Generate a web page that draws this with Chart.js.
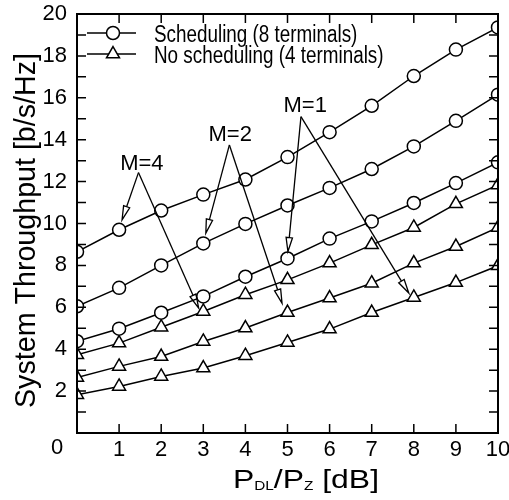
<!DOCTYPE html>
<html><head><meta charset="utf-8">
<script src="https://cdn.jsdelivr.net/npm/chart.js@4.4.0/dist/chart.umd.min.js"></script>
<style>html,body{margin:0;padding:0;background:#fff;} #wrap{width:509px;height:500px;position:relative;}</style>
</head><body><div id="wrap"><canvas id="c"></canvas></div>
<script>
// ---- data ----
const xValues = [0, 1, 2, 3, 4, 5, 6, 7, 8, 9, 10];
const schedM4   = [8.65, 9.70, 10.62, 11.38, 12.10, 13.17, 14.36, 15.62, 17.04, 18.30, 19.36];
const schedM2   = [6.05, 6.93, 8.00, 9.05, 9.98, 10.86, 11.70, 12.60, 13.68, 14.90, 16.15];
const schedM1   = [4.38, 4.98, 5.74, 6.52, 7.46, 8.33, 9.28, 10.10, 10.98, 11.93, 12.92];
const noSchedM4 = [3.73, 4.29, 5.05, 5.80, 6.60, 7.31, 8.11, 8.98, 9.81, 10.94, 11.84];
const noSchedM2 = [2.65, 3.18, 3.65, 4.37, 5.01, 5.75, 6.44, 7.15, 8.11, 8.90, 9.81];
const noSchedM1 = [1.83, 2.22, 2.70, 3.10, 3.69, 4.32, 4.96, 5.75, 6.47, 7.18, 7.98];
const xTickValues = [0, 1, 2, 3, 4, 5, 6, 7, 8, 9, 10];
const yTickLabels = [0, 2, 4, 6, 8, 10, 12, 14, 16, 18, 20];
const yMinorTicks = [1, 3, 5, 7, 9, 11, 13, 15, 17, 19];
const originLabel = '0';
const legendLabels = ['Scheduling (8 terminals)', 'No scheduling (4 terminals)'];
const annotationLabels = ['M=4', 'M=2', 'M=1'];
const annotationTextPos = [[1.54, 12.56], [3.64, 13.93], [5.42, 15.34]];
const annotationApex = [[1.46, 12.43], [3.62, 13.75], [5.32, 15.10]];
const annotationTargets = [
  [[1.07, 10.17], [2.89, 5.96]],
  [[3.06, 9.54], [4.87, 6.20]],
  [[5.01, 8.66], [7.88, 6.68]]
];
const xTitleParts = [['P', false], ['DL', true], ['/P', false], ['Z', true], [' [dB]', false]];
const yTitle = 'System Throughput [b/s/Hz]';

const FONT = '"Liberation Sans", Arial, Helvetica, sans-serif';
const toPts = arr => arr.map((v, i) => ({x: xValues[i], y: v}));
function ds(arr, style) {
  return {
    data: toPts(arr), borderColor: '#000', borderWidth: 1.5,
    pointStyle: style, pointRadius: style === 'circle' ? 6.5 : 7.5,
    pointBackgroundColor: '#fff', pointBorderColor: '#000', pointBorderWidth: 1.5,
    fill: false, tension: 0
  };
}

const decor = {
  id: 'decor',
  afterDraw(chart) {
    const ctx = chart.ctx, a = chart.chartArea;
    const xs = chart.scales.x, ys = chart.scales.y;
    ctx.save();
    // ticks
    ctx.strokeStyle = '#000'; ctx.lineWidth = 1.5;
    const TL = 9;
    ctx.beginPath();
    xTickValues.forEach(v => {
      const px = xs.getPixelForValue(v);
      ctx.moveTo(px, a.bottom); ctx.lineTo(px, a.bottom - TL);
      ctx.moveTo(px, a.top); ctx.lineTo(px, a.top + TL);
    });
    yTickLabels.concat(yMinorTicks).forEach(v => {
      const py = ys.getPixelForValue(v);
      ctx.moveTo(a.left, py); ctx.lineTo(a.left + TL, py);
      ctx.moveTo(a.right, py); ctx.lineTo(a.right - TL, py);
    });
    ctx.stroke();
    // frame
    ctx.lineWidth = 2;
    ctx.strokeRect(a.left, a.top, a.right - a.left, a.bottom - a.top);

    // shared origin label at the lower-left corner
    ctx.fillStyle = '#000';
    ctx.font = '22px ' + FONT;
    ctx.textAlign = 'center'; ctx.textBaseline = 'top';
    ctx.fillText(originLabel, a.left - 20, a.bottom + 4);

    // annotations
    ctx.lineWidth = 1.3;
    annotationLabels.forEach((lab, i) => {
      const ax = xs.getPixelForValue(annotationApex[i][0]);
      const ay = ys.getPixelForValue(annotationApex[i][1]);
      annotationTargets[i].forEach(t => {
        const tx = xs.getPixelForValue(t[0]), ty = ys.getPixelForValue(t[1]);
        const ang = Math.atan2(ty - ay, tx - ax);
        const L = 14, W = 3.2;
        const bx = tx - L * Math.cos(ang), by = ty - L * Math.sin(ang);
        ctx.beginPath();
        ctx.moveTo(ax, ay); ctx.lineTo(bx, by);
        ctx.stroke();
        ctx.beginPath();
        ctx.moveTo(tx, ty);
        ctx.lineTo(bx + W * Math.sin(ang), by - W * Math.cos(ang));
        ctx.lineTo(bx - W * Math.sin(ang), by + W * Math.cos(ang));
        ctx.closePath();
        ctx.stroke();
      });
      ctx.font = '22px ' + FONT;
      ctx.textAlign = 'center'; ctx.textBaseline = 'alphabetic';
      ctx.fillText(lab, xs.getPixelForValue(annotationTextPos[i][0]), ys.getPixelForValue(annotationTextPos[i][1]));
    });

    // legend
    const rows = [33, 54];
    const styles = ['circle', 'triangle'];
    rows.forEach((ry, i) => {
      const y = a.top + (ry - 14);
      ctx.lineWidth = 1.5;
      ctx.beginPath(); ctx.moveTo(a.left + 10, y); ctx.lineTo(a.left + 59, y); ctx.stroke();
      const cx = a.left + 36;
      ctx.fillStyle = '#fff';
      ctx.beginPath();
      if (styles[i] === 'circle') {
        ctx.arc(cx, y, 6.5, 0, Math.PI * 2);
      } else {
        const r = 7.5;
        ctx.moveTo(cx, y - r);
        ctx.lineTo(cx + r * Math.sin(2 * Math.PI / 3), y - r * Math.cos(2 * Math.PI / 3));
        ctx.lineTo(cx + r * Math.sin(4 * Math.PI / 3), y - r * Math.cos(4 * Math.PI / 3));
        ctx.closePath();
      }
      ctx.fill(); ctx.stroke();
      ctx.fillStyle = '#000';
      ctx.save();
      ctx.translate(a.left + 77, y + 8.5);
      ctx.scale(0.82, 1);
      ctx.font = '23px ' + FONT;
      ctx.textAlign = 'left'; ctx.textBaseline = 'alphabetic';
      ctx.fillText(legendLabels[i], 0, 0);
      ctx.restore();
    });

    // x title with subscripts
    ctx.fillStyle = '#000';
    ctx.textBaseline = 'alphabetic'; ctx.textAlign = 'left';
    const big = 25, small = 12;
    let total = 0;
    xTitleParts.forEach(p => {
      ctx.font = (p[1] ? small : big) + 'px ' + FONT;
      total += ctx.measureText(p[0]).width;
    });
    const sx = 146 / total;
    ctx.save();
    ctx.translate(306, 488);
    ctx.scale(sx, 1);
    let x = -total / 2;
    xTitleParts.forEach(p => {
      ctx.font = (p[1] ? small : big) + 'px ' + FONT;
      ctx.fillText(p[0], x, p[1] ? 1.5 : 0);
      x += ctx.measureText(p[0]).width;
    });
    ctx.restore();

    // y title
    ctx.save();
    ctx.translate(35, 230.5);
    ctx.rotate(-Math.PI / 2);
    ctx.font = '30px ' + FONT;
    const w = ctx.measureText(yTitle).width;
    ctx.scale(355 / w, 1);
    ctx.textAlign = 'center'; ctx.textBaseline = 'alphabetic';
    ctx.fillText(yTitle, 0, 0);
    ctx.restore();
    ctx.restore();
  }
};

new Chart(document.getElementById('c'), {
  type: 'line',
  data: {
    datasets: [
      ds(schedM4, 'circle'), ds(schedM2, 'circle'), ds(schedM1, 'circle'),
      ds(noSchedM4, 'triangle'), ds(noSchedM2, 'triangle'), ds(noSchedM1, 'triangle')
    ]
  },
  options: {
    responsive: true, maintainAspectRatio: false, animation: false,
    layout: {padding: {top: 14, right: 11, left: 0, bottom: 0}},
    plugins: {legend: {display: false}, tooltip: {enabled: false}},
    scales: {
      x: {
        type: 'linear', min: 0, max: 10,
        afterBuildTicks: s => { s.ticks = xTickValues.map(v => ({value: v})); },
        ticks: {color: '#000', font: {size: 22, family: FONT}, padding: 4, maxRotation: 0, autoSkip: false,
                callback: v => (v === 0 ? '' : String(v))},
        grid: {display: true, drawOnChartArea: false, drawTicks: false},
        border: {display: false},
        afterFit: s => { s.height = 67; s.paddingLeft = 0; s.paddingRight = 0; }
      },
      y: {
        type: 'linear', min: 0, max: 20,
        afterBuildTicks: s => { s.ticks = yTickLabels.map(v => ({value: v})); },
        ticks: {color: '#000', font: {size: 22, family: FONT}, padding: 10, autoSkip: false,
                callback: v => (v === 0 ? '' : String(v))},
        grid: {display: true, drawOnChartArea: false, drawTicks: false},
        border: {display: false},
        afterFit: s => { s.width = 77; s.paddingTop = 0; s.paddingBottom = 0; }
      }
    }
  },
  plugins: [decor]
});
</script>
</body></html>
